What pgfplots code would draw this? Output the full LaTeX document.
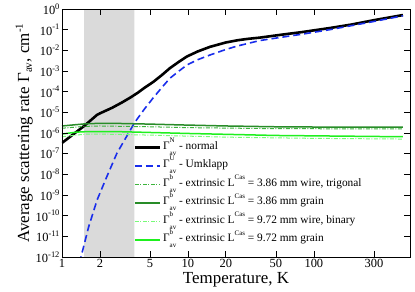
\documentclass[border=0pt]{standalone}
\usepackage{pgfplots}
\pgfplotsset{compat=1.18}
\usepackage{fontspec}
\setmainfont{Liberation Serif}
\definecolor{dkgreen}{RGB}{40,140,40}
\definecolor{mdgreen}{RGB}{60,180,60}
\definecolor{brgreen}{RGB}{30,240,30}
\definecolor{ltgreen}{RGB}{120,250,120}
\definecolor{myblue}{RGB}{25,45,235}
\definecolor{band}{RGB}{218,218,218}
\newcommand{\sps}[1]{\raisebox{0.42em}{\fontsize{8.5}{9}\selectfont #1}}
\newcommand{\G}[1]{Γ\makebox[0pt][l]{\raisebox{0.62em}{\fontsize{7}{7}\selectfont #1}}\raisebox{-0.5em}{\fontsize{7}{7}\selectfont av}}
\newcommand{\Lc}{L\raisebox{0.6em}{\fontsize{7}{7}\selectfont Cas}}
\begin{document}
\begin{tikzpicture}
\useasboundingbox (-62bp,-35bp) rectangle (353bp,257bp);
\begin{axis}[
  scale only axis, width=348bp, height=248bp,
  xmode=log, ymode=log, log basis x=10, log basis y=10,
  xmin=1, xmax=580, ymin=1e-12, ymax=1,
  axis on top,
  axis line style={line width=0.9bp},
  every tick/.style={line width=0.7bp, black},
  major tick length=6bp, minor tick length=3bp,
  xtick={1,2,5,10,20,50,100,300},
  xticklabels={1,2,5,10,20,50,100,300},
  ytick={1,1e-1,1e-2,1e-3,1e-4,1e-5,1e-6,1e-7,1e-8,1e-9,1e-10,1e-11,1e-12},
  yticklabels={10\sps{0},10\sps{-1},10\sps{-2},10\sps{-3},10\sps{-4},10\sps{-5},10\sps{-6},10\sps{-7},10\sps{-8},10\sps{-9},10\sps{-10},10\sps{-11},10\sps{-12}},
  ticklabel style={font=\fontsize{12.5}{13}\selectfont},
  xticklabel style={yshift=1.5bp},
  yticklabel style={xshift=1bp},
  xlabel={Temperature, K},
  ylabel={Average scattering rate Γ$_{\mbox{\fontsize{11}{11}\selectfont av}}$, cm$^{\mbox{\fontsize{11}{11}\selectfont -1}}$},
  label style={font=\fontsize{17}{18}\selectfont},
  xlabel style={yshift=2bp},
  ylabel style={yshift=-4bp},
  legend cell align=left,
  legend style={at={(0.205,0.479)}, anchor=north west, draw=none, fill=none,
    inner sep=0pt, font=\fontsize{11.4}{12}\selectfont,
    nodes={inner sep=2bp, text height=9bp, text depth=5.5bp},
    /tikz/every even column/.append style={column sep=1bp}},
  legend image code/.code={\draw[#1] (0bp,0bp) -- (25bp,0bp);},
]
\addplot[fill=band, draw=none, forget plot] coordinates {(1.5,1e-12) (3.75,1e-12) (3.75,1) (1.5,1)} \closedcycle;

\addplot[black, line width=2.6bp] coordinates {
(1,3.3e-7) (1.5,2.19e-6) (1.9,7.59e-6) (2.0,8.91e-6) (2.5,1.66e-5) (3.0,3.02e-5) (3.5,5.25e-5) (4.0,8.91e-5) (4.5,1.51e-4) (5.3,2.95e-4) (6.2,6.3e-4) (7.2,1.38e-3) (8.5,2.82e-3) (9.8,5.01e-3) (12,8.9e-3) (15,1.48e-2) (20,2.4e-2) (25,3.1e-2) (30,3.6e-2) (37,4.1e-2) (54,5.6e-2) (80,7.6e-2) (134,0.12) (200,0.178) (300,0.288) (510,0.51)};
\addlegendentry{\G{N} - normal}

\addplot[myblue, line width=1.6bp, dash pattern=on 7bp off 4bp] coordinates {
(1.38,5e-13) (1.415,1e-12) (1.63,2.95e-11) (1.9,5.75e-10) (2.27,7.76e-9) (2.73,1.05e-7) (3.38,1e-6) (3.77,3.16e-6) (4.5,1.41e-5) (5.3,5.01e-5) (6.2,1.58e-4) (7.2,4.47e-4) (8.5,1e-3) (9.8,1.95e-3) (12,3.55e-3) (14.9,5.89e-3) (20,1.1e-2) (24.5,1.6e-2) (37,2.95e-2) (54,4.2e-2) (80,6.0e-2) (134,0.1) (300,0.25) (510,0.47)};
\addlegendentry{\G{U} - Umklapp}

\addplot[mdgreen, line width=1bp, dash pattern=on 4bp off 1.5bp on 1bp off 1.5bp] coordinates {
(1,1.7e-6) (1.5,2.09e-6) (2,2.19e-6) (5,2.0e-6) (10,1.82e-6) (50,1.62e-6) (510,1.58e-6)};
\addlegendentry{\G{b} - extrinsic \Lc{} = 3.86 mm wire, trigonal}

\addplot[dkgreen, line width=1.5bp] coordinates {
(1,2.19e-6) (1.5,2.75e-6) (2,2.95e-6) (3,2.88e-6) (5,2.69e-6) (9,2.45e-6) (20,2.19e-6) (50,2.0e-6) (100,1.95e-6) (510,1.9e-6)};
\addlegendentry{\G{b} - extrinsic \Lc{} = 3.86 mm grain}

\addplot[ltgreen, line width=1bp, dash pattern=on 4bp off 1.5bp on 1bp off 1.5bp] coordinates {
(1,6.6e-7) (1.5,8.7e-7) (2,8.9e-7) (5,7.9e-7) (20,6.3e-7) (100,5.5e-7) (510,5.1e-7)};
\addlegendentry{\G{b} - extrinsic \Lc{} = 9.72 mm wire, binary}

\addplot[brgreen, line width=1.5bp] coordinates {
(1,8.9e-7) (1.3,1.1e-6) (1.6,1.17e-6) (3,1.15e-6) (10,9.5e-7) (50,7.6e-7) (510,6.6e-7)};
\addlegendentry{\G{b} - extrinsic \Lc{} = 9.72 mm grain}
\end{axis}
\end{tikzpicture}
\end{document}
